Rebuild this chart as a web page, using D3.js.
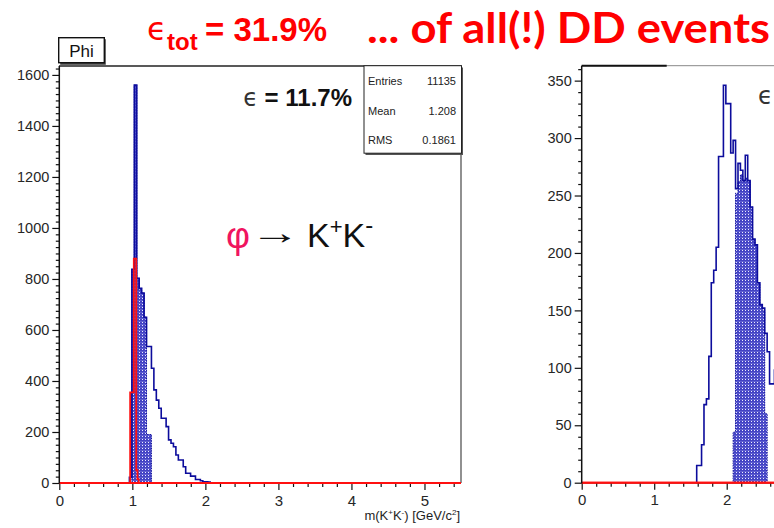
<!DOCTYPE html>
<html>
<head>
<meta charset="utf-8">
<script src="https://cdn.jsdelivr.net/npm/d3@7"></script>
<style>
  body { margin: 0; background: #fff; }
  svg { display: block; }
  text { font-family: "Liberation Sans", Arial, Helvetica, sans-serif; }
</style>
</head>
<body>
<svg id="chart" width="774" height="528"></svg>
<script>
// ---- data -------------------------------------------------------------
// K+K- invariant mass, bins of 0.0335 GeV/c^2
const binWidth = 0.0335;

// left pad: phi -> K+K- candidates
const phiStart = 0.96;
const phiAll = [22, 838, 1560, 803, 763, 745, 650, 535, 535, 450, 365, 325, 293,
                254, 254, 221, 169, 156, 142, 110, 90, 90, 64, 38, 38, 27, 27,
                14, 14, 9, 5, 5, 4];
const phiSel = [0, 838, 1560, 803, 763, 745, 650, 190, 190];
// true phi component, finer binning
const phiTrueStart = 0.97;
const phiTrueWidth = 0.0167;
const phiTrue = [355, 355, 355, 880, 880, 50, 15];

// right pad: second channel
const ddStart = 1.586;
const ddAll = [15, 15, 33, 68, 73, 110, 174, 185, 205, 284, 284, 346, 330, 330,
               287, 298, 256, 278, 272, 263, 285, 263, 240, 212, 207, 174, 155,
               152, 130, 114, 86, 86, 98];
const ddSel = [0, 0, 0, 0, 0, 0, 0, 0, 0, 0, 0, 0, 0, 0, 0,
               44, 252, 262, 268, 263, 265, 263, 240, 212, 207, 174, 155, 150, 60];

const xMajor = [0, 1, 2, 3, 4, 5];
const phiYMajor = [0, 200, 400, 600, 800, 1000, 1200, 1400, 1600];
const ddYMajor = [0, 50, 100, 150, 200, 250, 300, 350];

const stats = [["Entries", "11135"], ["Mean", "1.208"], ["RMS", "0.1861"]];

// ---- setup ------------------------------------------------------------
const svg = d3.select("#chart");
const W = 774;
const BLUE = "#0c0c9c";
const RED = "#ff1010";

const defs = svg.append("defs");
const pat = defs.append("pattern").attr("id", "dots")
  .attr("width", 3).attr("height", 3).attr("patternUnits", "userSpaceOnUse");
pat.append("rect").attr("width", 3).attr("height", 3).attr("fill", "#4343c4");
pat.append("rect").attr("x", 1).attr("y", 1).attr("width", 1).attr("height", 1)
  .attr("fill", "#ececff");
pat.append("rect").attr("x", 0).attr("y", 0).attr("width", 3).attr("height", 0.6)
  .attr("fill", "#7070d8");

const clip = defs.append("clipPath").attr("id", "rightClip");
clip.append("rect").attr("x", 540).attr("y", 50).attr("width", 240).attr("height", 478);

// histogram points for a step curve: one point per bin edge, closed to zero
function stepPoints(start, width, values, from, to) {
  const pts = [];
  pts.push([from !== undefined ? from : start, 0]);
  values.forEach((v, i) => pts.push([start + i * width, v]));
  const end = start + values.length * width;
  pts.push([end, 0]);
  if (to !== undefined) pts.push([to, 0]);
  return pts;
}

function drawPad(g, x, y, yMajor, yMinorStep, hists) {
  const [x0, x1] = x.range();
  const [yb, yt] = y.range();

  // hatched selection
  const line = d3.line().x(d => x(d[0])).y(d => y(d[1])).curve(d3.curveStepAfter);
  g.append("path")
    .attr("d", line(stepPoints(hists.start, binWidth, hists.sel)))
    .attr("fill", "url(#dots)")
    .attr("stroke", BLUE).attr("stroke-width", 1)
    .attr("stroke-dasharray", "1.5,1");

  // all candidates outline
  g.append("path")
    .attr("d", line(stepPoints(hists.start, binWidth, hists.all)))
    .attr("fill", "none").attr("stroke", BLUE).attr("stroke-width", 1.6);

  // frame bottom line, then red histogram across the whole range
  g.append("line").attr("x1", x0).attr("x2", x1).attr("y1", yb).attr("y2", yb)
    .attr("stroke", "#111").attr("stroke-width", 1.5);
  const tStart = hists.trueStart !== undefined ? hists.trueStart : 1;
  const tVals = hists.trueVals || [];
  const tW = hists.trueWidth || binWidth;
  g.append("path")
    .attr("d", line(stepPoints(tStart, tW, tVals, x.domain()[0], x.domain()[1])))
    .attr("fill", "none").attr("stroke", RED).attr("stroke-width", 1.8);

  // y axis
  const yMax = y.domain()[1];
  const yMinor = d3.range(0, yMax, yMinorStep).filter(v => yMajor.indexOf(v) < 0);
  const ya = g.append("g").attr("transform", `translate(${x0},0)`);
  ya.append("g").call(d3.axisLeft(y).tickValues(yMinor).tickSize(3.5).tickFormat(""));
  ya.append("g").call(d3.axisLeft(y).tickValues(yMajor).tickSize(7).tickPadding(3)
    .tickFormat(d3.format("d")));
  ya.selectAll(".domain").remove();
  ya.selectAll("line").attr("stroke", "#111").attr("stroke-width", 1.2);
  ya.selectAll("text").attr("font-size", 14.5).attr("fill", "#262626")
    .style("font-family", '"Liberation Sans", Arial, sans-serif');

  // x axis: only ticks that fall inside the window
  const visible = v => x(v) <= W - 6;
  const xMinor = d3.range(0, x.domain()[1] + 1e-9, 0.2)
    .filter(v => Math.abs(v - Math.round(v)) > 1e-6).filter(v => x(v) <= W);
  const xa = g.append("g").attr("transform", `translate(0,${yb})`);
  xa.append("g").call(d3.axisBottom(x).tickValues(xMinor).tickSize(4).tickFormat(""));
  xa.append("g").call(d3.axisBottom(x).tickValues(xMajor.filter(visible)).tickSize(7)
    .tickPadding(5).tickFormat(d3.format("d")));
  xa.selectAll(".domain").remove();
  xa.selectAll("line").attr("stroke", "#111").attr("stroke-width", 1.2);
  xa.selectAll("text").attr("font-size", 15).attr("fill", "#262626")
    .style("font-family", '"Liberation Sans", Arial, sans-serif');

  // redraw red baseline above the tick roots
  g.append("line").attr("x1", x0).attr("x2", Math.min(x1, W)).attr("y1", yb).attr("y2", yb)
    .attr("stroke", RED).attr("stroke-width", 2);

  // left frame edge
  g.append("line").attr("x1", x0).attr("x2", x0).attr("y1", yt).attr("y2", yb + 0.5)
    .attr("stroke", "#111").attr("stroke-width", 1.5);
}

// ---- left pad ---------------------------------------------------------
const xL = d3.scaleLinear().domain([0, 5.5]).range([59.3, 461]);
const yL = d3.scaleLinear().domain([0, 1635]).range([483, 66]);
const gL = svg.append("g");

// frame top and right
gL.append("line").attr("x1", 59).attr("x2", 461.5).attr("y1", 66).attr("y2", 66)
  .attr("stroke", "#222").attr("stroke-width", 1.6);
gL.append("line").attr("x1", 461).attr("x2", 461).attr("y1", 66).attr("y2", 483)
  .attr("stroke", "#555").attr("stroke-width", 1.3);

drawPad(gL, xL, yL, phiYMajor, 25, {
  start: phiStart, all: phiAll, sel: phiSel,
  trueStart: phiTrueStart, trueWidth: phiTrueWidth, trueVals: phiTrue
});

// stats box with shadow
const sb = gL.append("g");
sb.append("rect").attr("x", 365.5).attr("y", 67.5).attr("width", 97.5).attr("height", 87.5)
  .attr("fill", "#555");
sb.append("rect").attr("x", 364).attr("y", 65.7).attr("width", 97.5).attr("height", 87.5)
  .attr("fill", "#fff").attr("stroke", "#222").attr("stroke-width", 1);
stats.forEach((s, i) => {
  const yy = 85 + i * 29.5;
  sb.append("text").attr("x", 368).attr("y", yy).attr("font-size", 11)
    .attr("fill", "#222").text(s[0]);
  sb.append("text").attr("x", 456).attr("y", yy).attr("font-size", 11)
    .attr("text-anchor", "end").attr("fill", "#222").text(s[1]);
});

// title box "Phi"
const tb = gL.append("g");
tb.append("rect").attr("x", 60.2).attr("y", 39.2).attr("width", 45.6).attr("height", 25.6)
  .attr("fill", "#444");
tb.append("rect").attr("x", 58.7).attr("y", 37.7).attr("width", 45.6).attr("height", 25)
  .attr("fill", "#fff").attr("stroke", "#111").attr("stroke-width", 1.4);
tb.append("text").attr("x", 81.5).attr("y", 56.8).attr("font-size", 17)
  .attr("text-anchor", "middle").attr("fill", "#111").text("Phi");

// efficiency label
const eff = gL.append("text").attr("x", 352).attr("y", 106).attr("text-anchor", "end")
  .attr("fill", "#111");
eff.append("tspan").attr("font-size", 24).attr("font-weight", "normal")
  .attr("fill", "#333").style("font-family", '"DejaVu Sans", sans-serif').text("\u03f5");
eff.append("tspan").attr("font-size", 24).attr("font-weight", "bold").text(" = 11.7%");

// decay annotation
gL.append("text").attr("x", 226).attr("y", 248).attr("font-size", 37)
  .attr("fill", "#f0145f").text("\u03c6");
gL.append("text").attr("x", 250).attr("y", 244).attr("font-size", 34)
  .attr("fill", "#111").attr("textLength", 50).attr("lengthAdjust", "spacingAndGlyphs")
  .text("\u2192");
const kk = gL.append("text").attr("x", 307).attr("y", 247).attr("font-size", 34)
  .attr("fill", "#111");
kk.append("tspan").text("K");
kk.append("tspan").attr("font-size", 22).attr("dy", -13).text("+");
kk.append("tspan").attr("dy", 13).text("K");
kk.append("tspan").attr("font-size", 24).attr("dy", -14).text("-");

// x axis title
const xt = gL.append("text").attr("x", 460).attr("y", 520).attr("font-size", 13)
  .attr("text-anchor", "end").attr("fill", "#1e1e1e");
xt.append("tspan").text("m(K");
xt.append("tspan").attr("font-size", 8).attr("dy", -5).text("+");
xt.append("tspan").attr("dy", 5).text("K");
xt.append("tspan").attr("font-size", 8).attr("dy", -5).text("-");
xt.append("tspan").attr("dy", 5).text(") [GeV/c");
xt.append("tspan").attr("font-size", 8).attr("dy", -5).text("2");
xt.append("tspan").attr("dy", 5).text("]");

// ---- right pad --------------------------------------------------------
const xR = d3.scaleLinear().domain([0, 5.5]).range([581.7, 980.5]);
const yR = d3.scaleLinear().domain([0, 363]).range([482.7, 65.7]);
const gR = svg.append("g").attr("clip-path", "url(#rightClip)");

gR.append("line").attr("x1", 581.7).attr("x2", W).attr("y1", 65.7).attr("y2", 65.7)
  .attr("stroke", "#888").attr("stroke-width", 1);
gR.append("line").attr("x1", 581.7).attr("x2", 666.7).attr("y1", 65.7).attr("y2", 65.7)
  .attr("stroke", "#111").attr("stroke-width", 2);

drawPad(gR, xR, yR, ddYMajor, 10, { start: ddStart, all: ddAll, sel: ddSel });

svg.append("text").attr("x", 758).attr("y", 104).attr("font-size", 24)
  .attr("fill", "#333").style("font-family", '"DejaVu Sans", sans-serif').text("\u03f5");

// ---- headline ---------------------------------------------------------
const hd = svg.append("g").attr("fill", "#ff0000");
hd.append("text").attr("x", 147).attr("y", 40).attr("font-size", 32)
  .style("font-family", '"DejaVu Sans", sans-serif').text("\u03f5");
hd.append("text").attr("x", 167).attr("y", 50).attr("font-size", 24)
  .attr("font-weight", "bold").text("tot");
hd.append("text").attr("x", 205).attr("y", 41).attr("font-size", 33)
  .attr("font-weight", "bold").text("= 31.9%");
hd.append("text").attr("x", 367).attr("y", 43.3).attr("font-size", 42)
  .attr("font-weight", "bold").style("font-family", "Lato, 'Open Sans', sans-serif")
  .attr("textLength", 403).attr("lengthAdjust", "spacingAndGlyphs")
  .text("... of all(!) DD events");
</script>
</body>
</html>
